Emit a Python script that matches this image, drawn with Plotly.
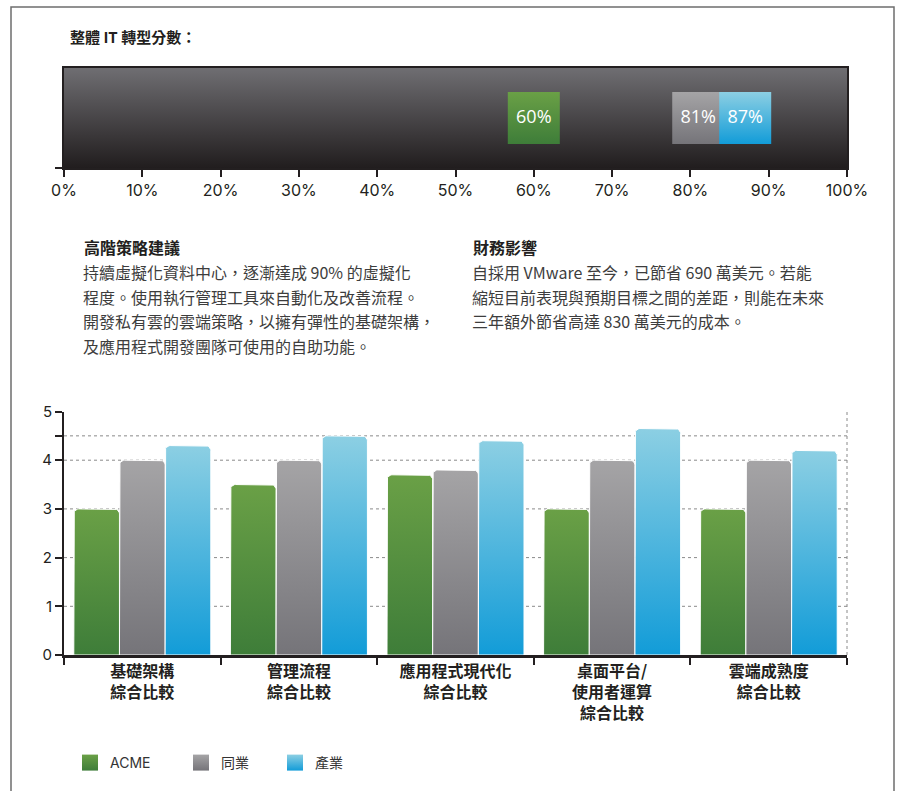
import numpy as np
import plotly.graph_objects as go

W, H = 898, 791

# ---------------- data ----------------
title_text = "整體 IT 轉型分數："
score_names = ["ACME", "同業", "產業"]
score_values = [60, 81, 87]
score_ticks = [0, 10, 20, 30, 40, 50, 60, 70, 80, 90, 100]

categories = [
    "基礎架構<br>綜合比較",
    "管理流程<br>綜合比較",
    "應用程式現代化<br>綜合比較",
    "桌面平台/<br>使用者運算<br>綜合比較",
    "雲端成熟度<br>綜合比較",
]
acme = [3.0, 3.5, 3.7, 3.0, 3.0]
peers = [4.0, 4.0, 3.8, 4.0, 4.0]
industry = [4.3, 4.5, 4.4, 4.65, 4.2]
y_ticks = [0, 1, 2, 3, 4, 4.5, 5]
y_tick_text = ["0", "1", "2", "3", "4", "", "5"]
grid_values = [1, 2, 3, 4, 4.5]

strategy_title = "高階策略建議"
strategy_lines = [
    "持續虛擬化資料中心，逐漸達成 90% 的虛擬化",
    "程度。使用執行管理工具來自動化及改善流程。",
    "開發私有雲的雲端策略，以擁有彈性的基礎架構，",
    "及應用程式開發團隊可使用的自助功能。",
]
finance_title = "財務影響"
finance_lines = [
    "自採用 VMware 至今，已節省 690 萬美元。若能",
    "縮短目前表現與預期目標之間的差距，則能在未來",
    "三年額外節省高達 830 萬美元的成本。",
]

# ---------------- styles ----------------
series = [
    ("ACME", acme, "#6aa046", "#3e7d39"),
    ("同業", peers, "#a5a4a6", "#757479"),
    ("產業", industry, "#8ccfe3", "#129cd8"),
]
CJK = "Noto Sans CJK TC"
NUM = "Inter"
DARK = "#231f20"

PL, PR = 64, 847
TOP_T, TOP_B = 68, 168
BOT_T, BOT_B = 411.5, 655


def px(x):
    return x / W


def py(y):
    return 1 - y / H


fig = go.Figure()

# ---- top chart: gradient background + score markers ----
xr = [score_ticks[0], score_ticks[-1]]
fig.add_trace(go.Scatter(
    x=[xr[0], xr[1], xr[1], xr[0], xr[0]], y=[0, 0, 1, 1, 0],
    mode="lines", fill="toself", line=dict(width=0),
    fillgradient=dict(type="vertical", colorscale=[[0, "#211d1e"], [1, "#6f6e72"]]),
    hoverinfo="skip", showlegend=False, xaxis="x", yaxis="y"))

fig.add_trace(go.Scatter(
    x=score_values, y=[0.5] * len(score_values), mode="markers+text",
    text=[f"{v}%" for v in score_values], textposition="middle center",
    textfont=dict(family="Open Sans", size=18, color="white"),
    marker=dict(symbol="square", size=52,
                color=[s[2] for s in series],
                gradient=dict(type="vertical", color=[s[3] for s in series]),
                line=dict(width=0)),
    customdata=score_names, hovertemplate="%{customdata}: %{x}%<extra></extra>",
    showlegend=False, xaxis="x", yaxis="y"))

# ---- bottom chart: gradient bars with rounded tops ----
n_groups = len(categories)
group_w = 0.875
bar_w = group_w / len(series)
px_per_x = (PR - PL) / n_groups
px_per_y = (BOT_B - BOT_T) / 5
rad = 5
rx, ry = rad / px_per_x, rad / px_per_y


def bar_shape(xc, top):
    hw = bar_w / 2
    a1 = np.linspace(np.pi, np.pi / 2, 8)
    a2 = np.linspace(np.pi / 2, 0, 8)
    xs = [xc - hw] + list(xc - hw + rx + rx * np.cos(a1)) + \
        list(xc + hw - rx + rx * np.cos(a2)) + [xc + hw, xc - hw]
    ys = [0] + list(top - ry + ry * np.sin(a1)) + \
        list(top - ry + ry * np.sin(a2)) + [0, 0]
    return xs, ys


for si, (name, vals, ctop, cbot) in enumerate(series):
    for gi, v in enumerate(vals):
        xc = gi + (si - (len(series) - 1) / 2) * bar_w
        xs, ys = bar_shape(xc, v)
        fig.add_trace(go.Scatter(
            x=xs, y=ys, mode="lines", fill="toself",
            line=dict(color="white", width=1),
            fillgradient=dict(type="vertical", colorscale=[[0, cbot], [1, ctop]]),
            name=name, hovertemplate=f"{name}: {v}<extra></extra>",
            showlegend=False, xaxis="x2", yaxis="y2"))

# legend entries (one legend per series so each can be placed freely)
legend_x = [82, 193, 287]
for si, (name, vals, ctop, cbot) in enumerate(series):
    lg = "legend" if si == 0 else f"legend{si + 1}"
    fig.add_trace(go.Scatter(
        x=[None], y=[None], mode="markers", name=name,
        marker=dict(symbol="square", size=16, color=ctop,
                    gradient=dict(type="vertical", color=cbot)),
        legend=lg, xaxis="x2", yaxis="y2"))

legend_common = dict(orientation="h", yanchor="middle", xanchor="left",
                     y=py(763), bgcolor="rgba(0,0,0,0)", borderwidth=0,
                     font=dict(family=f"{NUM}, {CJK}", size=14, color="#333333"),
                     itemclick=False, itemdoubleclick=False)

shapes = []
shapes.append(dict(type="line", xref="x domain", yref="y", x0=0, x1=1, y0=0.5, y1=0.5,
                   line=dict(color="rgba(255,255,255,0.85)", width=1, dash="dot"), layer="below"))
for g in grid_values:
    shapes.append(dict(type="line", xref="x2 domain", yref="y2", x0=0, x1=1, y0=g, y1=g,
                       line=dict(color="#8a8a8a", width=1, dash="dot"), layer="below"))
shapes.append(dict(type="line", xref="x2 domain", yref="y2 domain", x0=1, x1=1, y0=0, y1=1,
                   line=dict(color="#8a8a8a", width=1, dash="dot"), layer="below"))
shapes.append(dict(type="rect", xref="paper", yref="paper", x0=px(11), x1=px(894),
                   y0=-0.05, y1=py(7), line=dict(color="#6d6d6d", width=1.5)))

annotations = []
annotations.append(dict(text=title_text, x=px(68), y=py(37), xref="paper", yref="paper",
                        xanchor="left", yanchor="middle", showarrow=False,
                        font=dict(family=CJK, size=15, color=DARK, weight="bold")))
for (hx, head, lines) in [(82, strategy_title, strategy_lines), (471, finance_title, finance_lines)]:
    annotations.append(dict(text=head, x=px(hx), y=py(247), xref="paper", yref="paper",
                            xanchor="left", yanchor="middle", showarrow=False,
                            font=dict(family=CJK, size=16, color=DARK, weight="bold")))
    for i, ln in enumerate(lines):
        annotations.append(dict(text=ln, x=px(hx - 1), y=py(272 + 24.7 * i), xref="paper",
                                yref="paper", xanchor="left", yanchor="middle", showarrow=False,
                                font=dict(family=CJK, size=16, color="#3d3d3d")))

axis_line = dict(showline=True, linecolor=DARK, zeroline=False, showgrid=False,
                 fixedrange=True, automargin=False)

fig.update_layout(
    width=W, height=H, autosize=False,
    margin=dict(l=0, r=0, t=0, b=0, pad=0, autoexpand=False),
    paper_bgcolor="white", plot_bgcolor="rgba(0,0,0,0)",
    showlegend=True,
    xaxis=dict(domain=[px(PL), px(PR)], anchor="y", range=xr, tickmode="array",
               tickvals=score_ticks, ticktext=[f"{t}%" for t in score_ticks],
               ticks="outside", ticklen=7,
               tickwidth=1.5, tickcolor=DARK, linewidth=1.5, mirror=True,
               tickfont=dict(family=NUM, size=16, color=DARK), **axis_line),
    yaxis=dict(domain=[py(TOP_B), py(TOP_T)], anchor="x", range=[0, 1], tickmode="array",
               tickvals=[0], showticklabels=False, ticks="outside", ticklen=7,
               tickwidth=1.5, tickcolor=DARK, linewidth=1.5, mirror=True, **axis_line),
    xaxis2=dict(domain=[px(PL), px(PR)], anchor="y2", range=[-0.5, n_groups - 0.5],
                tickmode="array", tickvals=list(range(n_groups)), ticktext=categories,
                ticks="", linewidth=2.5,
                minor=dict(tickmode="array", tickvals=[i - 0.5 for i in range(n_groups + 1)],
                           ticks="outside", ticklen=7, tickwidth=1.5, tickcolor=DARK,
                           showgrid=False),
                tickfont=dict(family=CJK, size=16, color=DARK, weight="bold"), **axis_line),
    yaxis2=dict(domain=[py(BOT_B), py(BOT_T)], anchor="x2", range=[0, 5], tickmode="array",
                tickvals=y_ticks, ticktext=y_tick_text, ticks="outside", ticklen=7,
                tickwidth=1.5, tickcolor=DARK, linewidth=2,
                tickfont=dict(family=NUM, size=15, color=DARK), **axis_line),
    legend=dict(x=px(legend_x[0] - 12), **legend_common),
    legend2=dict(x=px(legend_x[1] - 12), **legend_common),
    legend3=dict(x=px(legend_x[2] - 12), **legend_common),
    shapes=shapes, annotations=annotations,
)

fig.write_html("out.html", config={"displayModeBar": False},
               post_script="document.body.style.margin='0';")
